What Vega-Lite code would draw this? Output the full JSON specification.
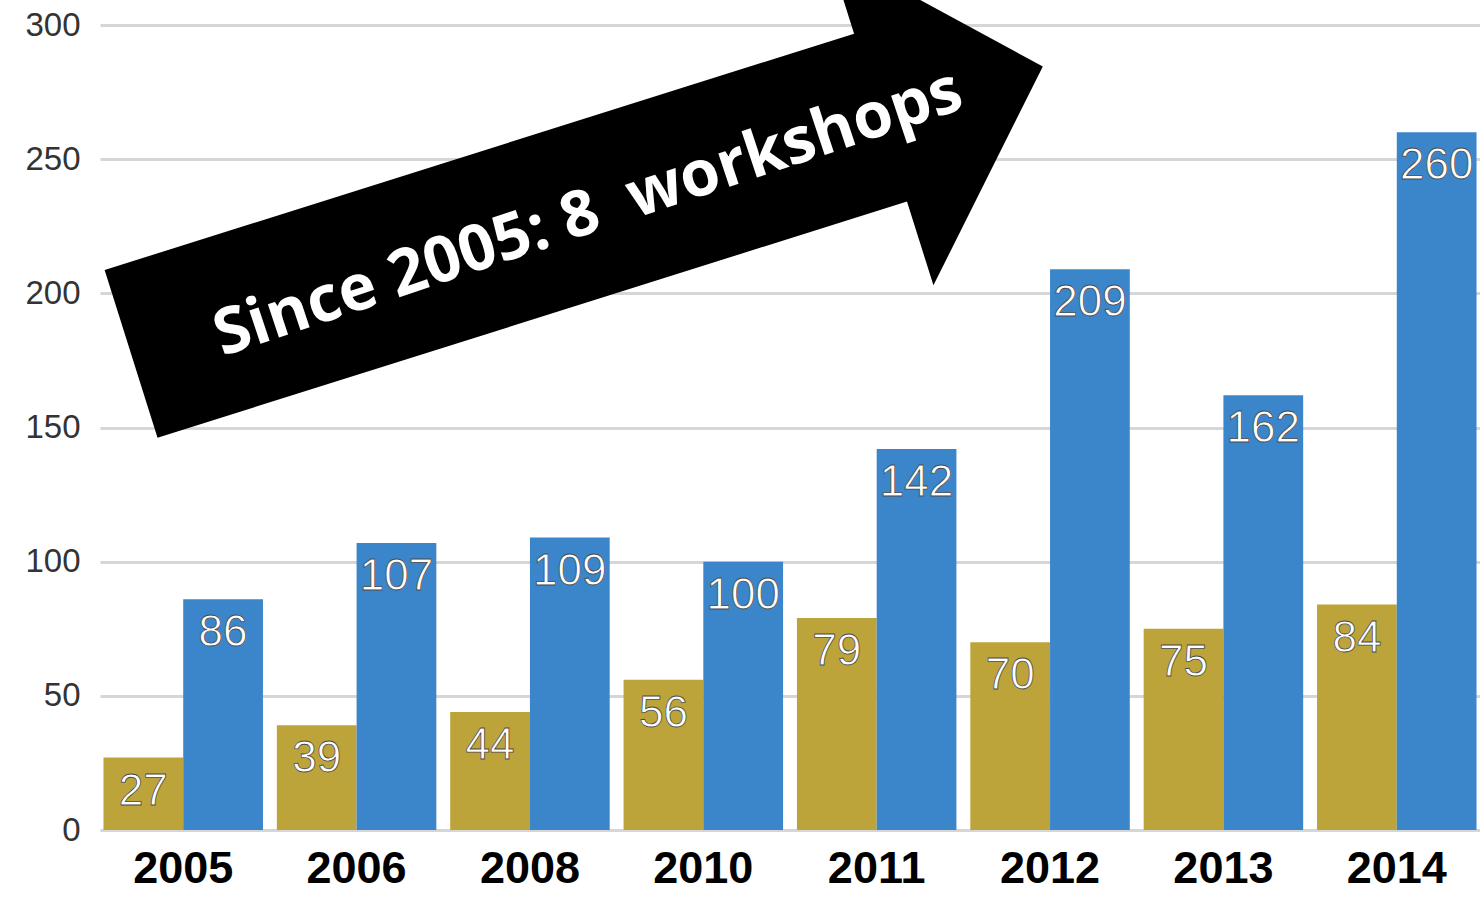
{
  "$schema": "https://vega.github.io/schema/vega-lite/v6.json",
  "width": 1380,
  "height": 805,
  "autosize": {"type": "none"},
  "padding": {"left": 100, "top": 25, "right": 0, "bottom": 72},
  "background": "white",
  "config": {"view": {"stroke": null}},
  "datasets": {
    "bars": [
      {"year": "2005", "series": "A", "value": 27},
      {"year": "2005", "series": "B", "value": 86},
      {"year": "2006", "series": "A", "value": 39},
      {"year": "2006", "series": "B", "value": 107},
      {"year": "2008", "series": "A", "value": 44},
      {"year": "2008", "series": "B", "value": 109},
      {"year": "2010", "series": "A", "value": 56},
      {"year": "2010", "series": "B", "value": 100},
      {"year": "2011", "series": "A", "value": 79},
      {"year": "2011", "series": "B", "value": 142},
      {"year": "2012", "series": "A", "value": 70},
      {"year": "2012", "series": "B", "value": 209},
      {"year": "2013", "series": "A", "value": 75},
      {"year": "2013", "series": "B", "value": 162},
      {"year": "2014", "series": "A", "value": 84},
      {"year": "2014", "series": "B", "value": 260}
    ],
    "note": [
      {"year": "2008", "value": 231, "label": "Since 2005: 8\u00a0 workshops"}
    ]
  },
  "encoding": {
    "x": {
      "field": "year",
      "type": "nominal",
      "sort": ["2005", "2006", "2008", "2010", "2011", "2012", "2013", "2014"],
      "scale": {"paddingInner": 0.08, "paddingOuter": 0.02},
      "axis": {
        "title": null,
        "labelAngle": 0,
        "labelFont": "Liberation Sans",
        "labelFontWeight": "bold",
        "labelFontSize": 45,
        "labelColor": "#000000",
        "labelPadding": 16,
        "domain": false,
        "ticks": false
      }
    },
    "y": {
      "field": "value",
      "type": "quantitative",
      "scale": {"domain": [0, 300], "nice": false},
      "axis": {
        "title": null,
        "values": [0, 50, 100, 150, 200, 250, 300],
        "grid": true,
        "gridColor": "#d6d6d6",
        "gridWidth": 3,
        "labelFont": "Liberation Sans",
        "labelFontSize": 33,
        "labelColor": "#333333",
        "labelPadding": 20,
        "domain": false,
        "ticks": false
      }
    }
  },
  "layer": [
    {
      "data": {"name": "bars"},
      "mark": {"type": "bar"},
      "encoding": {
        "xOffset": {"field": "series", "type": "nominal"},
        "color": {
          "field": "series",
          "type": "nominal",
          "scale": {"domain": ["A", "B"], "range": ["#bca43a", "#3b86cb"]},
          "legend": null
        }
      }
    },
    {
      "data": {"name": "bars"},
      "mark": {
        "type": "text",
        "baseline": "middle",
        "align": "center",
        "dy": 34,
        "font": "Liberation Sans",
        "fontSize": 44,
        "fill": "#ffffff",
        "stroke": "#4a4a4a",
        "strokeWidth": 0.8
      },
      "encoding": {
        "xOffset": {"field": "series", "type": "nominal"},
        "text": {"field": "value", "type": "quantitative"}
      }
    },
    {
      "data": {"name": "note"},
      "mark": {
        "type": "point",
        "filled": true,
        "shape": "M -1 -0.184 L 0.644 -0.184 L 0.644 -0.368 L 1 0 L 0.644 0.368 L 0.644 0.184 L -1 0.184 Z",
        "size": 913936,
        "angle": -17.5,
        "color": "#000000",
        "opacity": 1,
        "xOffset": 57
      }
    },
    {
      "data": {"name": "note"},
      "mark": {
        "type": "text",
        "angle": -18.5,
        "align": "center",
        "baseline": "middle",
        "font": "Open Sans",
        "fontWeight": "bold",
        "fontSize": 64,
        "fill": "#ffffff",
        "xOffset": 57,
        "dy": 4
      },
      "encoding": {"text": {"field": "label", "type": "nominal"}}
    }
  ]
}
